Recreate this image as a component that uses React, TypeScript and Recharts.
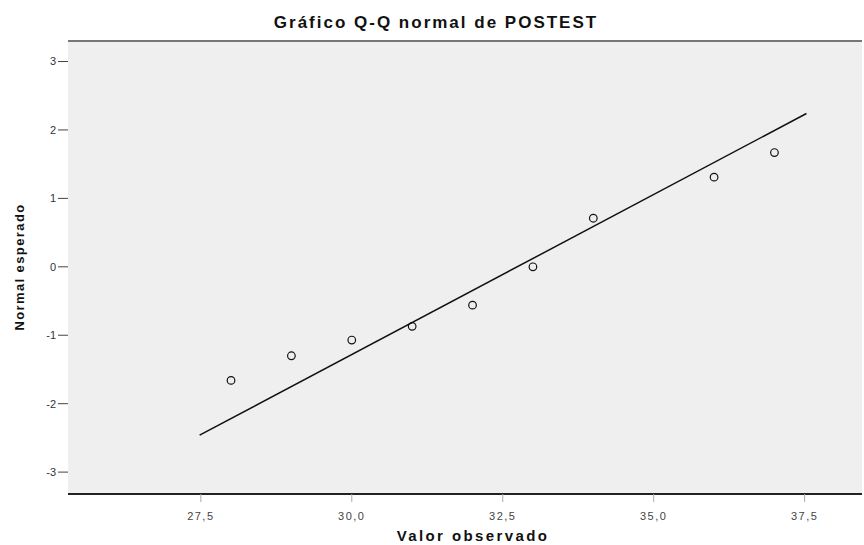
import React from 'react';
import { ScatterChart, Scatter, XAxis, YAxis, CartesianGrid, ReferenceLine } from 'recharts';

const observedValues = [28, 29, 30, 31, 32, 33, 34, 36, 37];
const expectedNormal = [-1.66, -1.3, -1.07, -0.87, -0.56, 0.0, 0.71, 1.31, 1.67];
const xTicks = [27.5, 30, 32.5, 35, 37.5];
const yTicks = [-3, -2, -1, 0, 1, 2, 3];
const xDomain: [number, number] = [25.3, 38.45];
const yDomain: [number, number] = [-3.32, 3.3];
const lineMean = 32.74;
const lineSd = 2.138;
const lineRange = [27.48, 37.53];

const points = observedValues.map((x, i) => ({ x, y: expectedNormal[i] }));
const lineData = lineRange.map((x) => ({ x, y: (x - lineMean) / lineSd }));

const FONT = '"Liberation Sans", Arial, sans-serif';

const fmtX = (v: number) => v.toFixed(1).replace('.', ',');

const Marker = (props: any) => {
  const { cx, cy } = props;
  if (cx == null || cy == null) return <g />;
  return <circle cx={cx} cy={cy} r={3.8} fill="none" stroke="#111" strokeWidth={1.2} />;
};

const NoShape = () => <g />;

export default function App() {
  return (
    <div style={{ position: 'absolute', left: 0, top: 0, width: 864, height: 545, background: '#fff' }}>
      <ScatterChart
        width={864}
        height={545}
        margin={{ top: 41, right: 2, left: 0, bottom: 0 }}
      >
        <CartesianGrid fill="#efefef" horizontal={false} vertical={false} />
        <XAxis
          type="number"
          dataKey="x"
          domain={xDomain}
          ticks={xTicks}
          tickFormatter={fmtX}
          height={51}
          allowDataOverflow
          axisLine={{ stroke: '#222', strokeWidth: 2 }}
          tickLine={{ stroke: '#aaa' }}
          tickSize={8}
          tickMargin={10}
          tick={{ fill: '#444', fontSize: 11, fontFamily: FONT, letterSpacing: 1.5 }}
        />
        <YAxis
          type="number"
          dataKey="y"
          domain={yDomain}
          ticks={yTicks}
          width={68}
          allowDataOverflow
          axisLine={false}
          tickLine={{ stroke: '#444' }}
          tickSize={10}
          tickMargin={2}
          tick={{ fill: '#333', fontSize: 11, fontFamily: FONT }}
        />
        <ReferenceLine y={yDomain[1]} stroke="#777" strokeWidth={2} ifOverflow="visible" />
        <Scatter
          data={lineData}
          line={{ stroke: '#111', strokeWidth: 1.5 }}
          shape={NoShape}
          isAnimationActive={false}
        />
        <Scatter data={points} shape={Marker} isAnimationActive={false} />
        <text x={436} y={28} textAnchor="middle" fontFamily={FONT} fontWeight="bold" fontSize={17} letterSpacing={2} fill="#111">
          Gráfico Q-Q normal de POSTEST
        </text>
        <text x={473} y={541} textAnchor="middle" fontFamily={FONT} fontWeight="bold" fontSize={15} letterSpacing={2.4} fill="#111">
          Valor observado
        </text>
        <text x={24} y={267} textAnchor="middle" fontFamily={FONT} fontWeight="bold" fontSize={13} letterSpacing={1.4} fill="#111" transform="rotate(-90 24 267)">
          Normal esperado
        </text>
      </ScatterChart>
    </div>
  );
}
